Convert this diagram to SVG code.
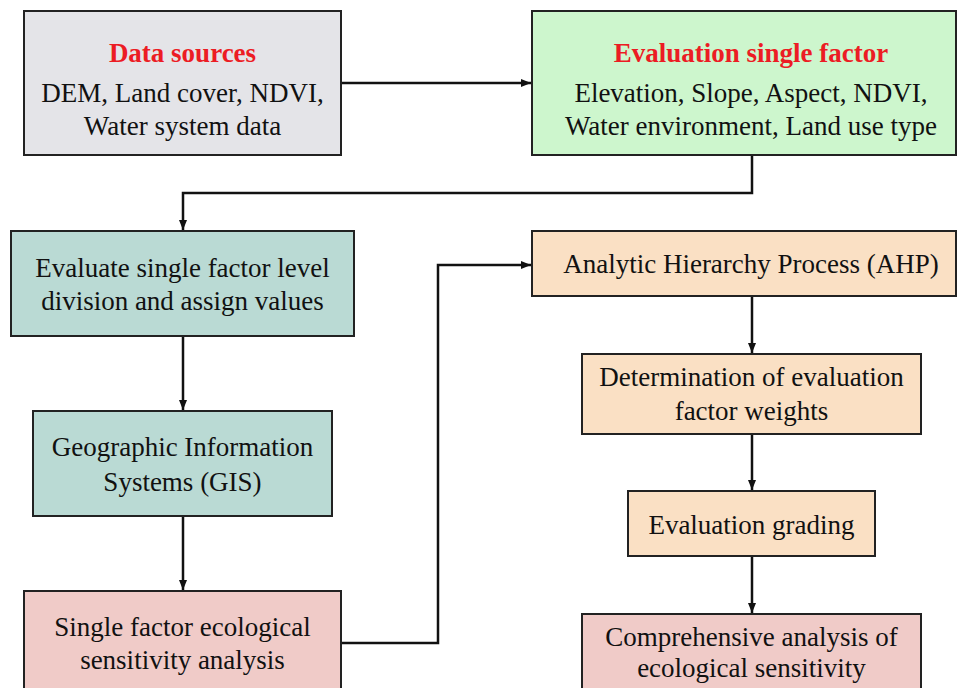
<svg xmlns="http://www.w3.org/2000/svg" width="958" height="688" viewBox="0 0 958 688">
<style>
.box{stroke:#222;stroke-width:2}
.t{font-family:"Liberation Serif","Times New Roman",serif;font-size:27px;fill:#111;text-anchor:middle}
.h{font-weight:bold;fill:#ec1c24}
.c{fill:none;stroke:#111;stroke-width:2.5}
</style>
<defs>
<marker id="ar" markerUnits="userSpaceOnUse" markerWidth="10" markerHeight="10" viewBox="0 0 10 10" refX="10" refY="5" orient="auto">
<path d="M0,1 L10,5 L0,9 z" fill="#111"/>
</marker>
</defs>
<rect width="958" height="688" fill="#fff"/>
<g id="connectors">
<path class="c" d="M341,83 H531" marker-end="url(#ar)"/>
<path class="c" d="M752,155 V193 H183 V230" marker-end="url(#ar)"/>
<path class="c" d="M183,336 V410" marker-end="url(#ar)"/>
<path class="c" d="M183,516 V590" marker-end="url(#ar)"/>
<path class="c" d="M341,643 H438 V265 H531" marker-end="url(#ar)"/>
<path class="c" d="M752,296 V353" marker-end="url(#ar)"/>
<path class="c" d="M752,434 V490" marker-end="url(#ar)"/>
<path class="c" d="M752,556 V613" marker-end="url(#ar)"/>
</g>
<g id="data-sources">
<rect class="box" x="24" y="11" width="317" height="144" fill="#e4e4e8"/>
<text class="t h" x="182.5" y="62">Data sources</text>
<text class="t" x="182.5" y="102">DEM, Land cover, NDVI,</text>
<text class="t" x="182.5" y="135">Water system data</text>
</g>
<g id="evaluation-single-factor">
<rect class="box" x="532" y="11" width="424" height="144" fill="#cdf6cd"/>
<text class="t h" x="751" y="62">Evaluation single factor</text>
<text class="t" x="751" y="102">Elevation, Slope, Aspect, NDVI,</text>
<text class="t" x="751" y="135">Water environment, Land use type</text>
</g>
<g id="evaluate-level">
<rect class="box" x="11" y="231" width="343" height="105" fill="#badad4"/>
<text class="t" x="182.5" y="277">Evaluate single factor level</text>
<text class="t" x="182.5" y="310">division and assign values</text>
</g>
<g id="gis">
<rect class="box" x="33" y="411" width="299" height="105" fill="#badad4"/>
<text class="t" x="182.5" y="456">Geographic Information</text>
<text class="t" x="182.5" y="491">Systems (GIS)</text>
</g>
<g id="single-factor-sensitivity">
<rect class="box" x="24" y="591" width="317" height="110" fill="#f0cbc8"/>
<text class="t" x="182.5" y="636">Single factor ecological</text>
<text class="t" x="182.5" y="669">sensitivity analysis</text>
</g>
<g id="ahp">
<rect class="box" x="532" y="231" width="424" height="65" fill="#fae0c4"/>
<text class="t" x="751" y="273">Analytic Hierarchy Process (AHP)</text>
</g>
<g id="weights">
<rect class="box" x="582" y="354" width="339" height="80" fill="#fae0c4"/>
<text class="t" x="751.5" y="386">Determination of evaluation</text>
<text class="t" x="751.5" y="420">factor weights</text>
</g>
<g id="grading">
<rect class="box" x="628" y="491" width="247" height="65" fill="#fae0c4"/>
<text class="t" x="751.5" y="534">Evaluation grading</text>
</g>
<g id="comprehensive">
<rect class="box" x="582" y="614" width="339" height="90" fill="#f0cbc8"/>
<text class="t" x="751.5" y="646">Comprehensive analysis of</text>
<text class="t" x="751.5" y="677">ecological sensitivity</text>
</g>
</svg>
